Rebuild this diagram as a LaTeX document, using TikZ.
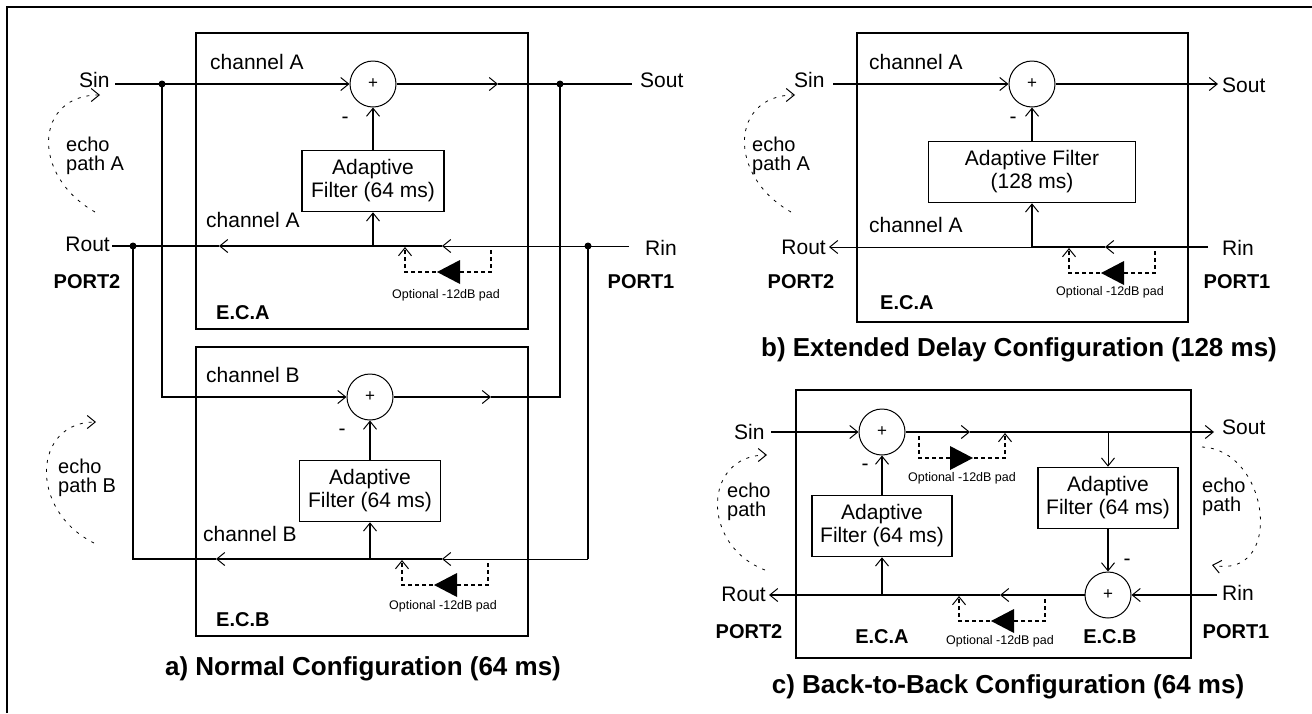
\documentclass[tikz,border=0pt]{standalone}
\usepackage{fontspec}
\setmainfont{Liberation Sans}
\usetikzlibrary{arrows.meta}

\tikzset{padpic/.pic={
	\draw[padline,->] (86,4) -- (86,26) -- (0,26) -- (0,1);
	\fill (32,26) -- (55,14) -- (55,38) -- cycle;
}}

\begin{document}
\begin{tikzpicture}[x=1pt,y=-1pt,
				>={Straight Barb[length=8pt,width=13pt,line width=1pt]},
				every node/.style={inner sep=0pt,font=\fontsize{21}{23}\selectfont},
				sum/.style={circle,draw,line width=1pt,minimum size=46pt,font=\fontsize{17}{17}\selectfont},
				afilter/.style={draw,line width=1.6pt,align=center,minimum height=61pt},
				lbl/.style={font=\fontsize{20}{20}\selectfont\bfseries},
				figtitle/.style={font=\fontsize{26}{26}\selectfont\bfseries},
				padtext/.style={font=\fontsize{12.5}{13}\selectfont},
				echotext/.style={align=left,font=\fontsize{20}{19}\selectfont},
				dot/.style={circle,fill,minimum size=7pt},
				wire/.style={line width=1.6pt},
				thinwire/.style={line width=1pt},
				padline/.style={line width=1.2pt,dash pattern=on 4pt off 3pt},
				echoline/.style={line width=0.8pt,dash pattern=on 3pt off 6pt}]
\useasboundingbox (0,0) rectangle (1312,713);
% frame
\draw[line width=2pt] (7,713) -- (7,7) -- (1312,7);

% a) normal configuration
\draw[wire] (196,33) rectangle (528,329);
\draw[wire] (196,347) rectangle (528,636);
\node[sum] (sumA) at (373,84) {+};
\node[sum] (sumB) at (370,397) {+};
\node[afilter,minimum width=142pt] (filtA) at (373,181) {Adaptive\\Filter (64 ms)};
\node[afilter,minimum width=141pt] (filtB) at (370,491) {Adaptive\\Filter (64 ms)};
\node[anchor=west] (sinA) at (79,80) {Sin};
\node[anchor=west] (soutA) at (640,80) {Sout};
\node[anchor=east] (routA) at (110,244) {Rout};
\node[anchor=west] (rinA) at (645,248) {Rin};
\node[lbl] (p2A) at (87,282) {PORT2};
\node[lbl] (p1A) at (641,282) {PORT1};
\node[anchor=west] (chA1) at (210,62) {channel A};
\node[anchor=west] (chA2) at (206,220) {channel A};
\node[anchor=west] (chB1) at (206,375) {channel B};
\node[anchor=west] (chB2) at (203,534) {channel B};
\node[lbl,anchor=west] (ecA) at (216,313) {E.C.A};
\node[lbl,anchor=west] (ecB) at (216,620) {E.C.B};
\node (mA) at (345,120) {-};
\node (mB) at (342,432) {-};
\node[padtext] (optA) at (446,295) {Optional -12dB pad};
\node[padtext] (optB) at (443,606) {Optional -12dB pad};
\node[echotext,anchor=west] (echoA) at (66,156) {echo\\path A};
\node[echotext,anchor=west] (echoB) at (58,478) {echo\\path B};
\node[figtitle] (ttlA) at (363,669) {a) Normal Configuration (64 ms)};

\coordinate (sA) at (115,84);
\coordinate (aA) at (498,84);
\coordinate (oA) at (632,84);
\node[dot] (dA1) at (162,84) {};
\node[dot] (dA2) at (560,84) {};
\draw[wire,->] (sA) -- (sumA.west);
\draw[wire,->] (sumA.east) -- (aA);
\draw[wire] (aA) -- (oA);
\draw[wire,->] (dA1.center) |- (sumB.west);
\coordinate (aB) at (491,397);
\draw[wire,->] (sumB.east) -- (aB);
\draw[wire] (aB) -| (dA2.center);

\coordinate (rA) at (629,246);
\coordinate (rA1) at (442,246);
\coordinate (rA2) at (219,246);
\coordinate (tA) at (112,246);
\node[dot] (dR1) at (133,246) {};
\node[dot] (dR2) at (588,246) {};
\draw[thinwire,->] (rA) -- (rA1);
\draw[wire,->] (rA1) -- (rA2);
\draw[wire] (rA2) -- (tA);
\coordinate (cB1) at (588,559);
\coordinate (rB1) at (442,559);
\coordinate (rB2) at (216,559);
\coordinate (cB2) at (133,559);
\draw[wire] (dR2.center) -- (cB1);
\draw[thinwire,->] (cB1) -- (rB1);
\draw[wire,->] (rB1) -- (rB2);
\draw[wire] (rB2) -- (cB2) -- (dR1.center);

\coordinate (uA) at (373,246);
\coordinate (uB) at (370,559);
\draw[wire,->] (uA) -- (filtA.south);
\draw[wire,->] (filtA.north) -- (sumA.south);
\draw[wire,->] (uB) -- (filtB.south);
\draw[wire,->] (filtB.north) -- (sumB.south);
\pic at (405,246) {padpic};
\pic at (402,559) {padpic};

\coordinate (eA1) at (95,212);
\coordinate (eA2) at (100,95);
\draw[echoline,->] (eA1) .. controls (30,175) and (35,95) .. (eA2);
\coordinate (eB1) at (94,543);
\coordinate (eB2) at (96,422);
\draw[echoline,->] (eB1) .. controls (28,510) and (33,422) .. (eB2);

% b) extended delay configuration
\draw[wire] (857,33) rectangle (1188,322);
\node[sum] (sumE) at (1032,84) {+};
\node[afilter,minimum width=207pt] (filtE) at (1032,172) {Adaptive Filter\\(128 ms)};
\node[anchor=west] (sinE) at (794,80) {Sin};
\node[anchor=west] (soutE) at (1222,85) {Sout};
\node[anchor=east] (routE) at (826,247) {Rout};
\node[anchor=west] (rinE) at (1222,248) {Rin};
\node[lbl] (p2E) at (801,282) {PORT2};
\node[lbl] (p1E) at (1237,282) {PORT1};
\node[anchor=west] (chE1) at (869,62) {channel A};
\node[anchor=west] (chE2) at (869,225) {channel A};
\node[lbl,anchor=west] (ecE) at (880,303) {E.C.A};
\node (mE) at (1013,120) {-};
\node[padtext] (optE) at (1110,292) {Optional -12dB pad};
\node[echotext,anchor=west] (echoE) at (752,156) {echo\\path A};
\node[figtitle] (ttlE) at (1019,350) {b) Extended Delay Configuration (128 ms)};

\coordinate (sE) at (833,84);
\coordinate (oE) at (1218,84);
\draw[wire,->] (sE) -- (sumE.west);
\draw[wire,->] (sumE.east) -- (oE);
\coordinate (rE) at (1208,247);
\coordinate (rE1) at (1105,247);
\coordinate (uE) at (1032,247);
\coordinate (tE) at (829,247);
\draw[wire,->] (rE) -- (rE1);
\draw[wire] (rE1) -- (uE);
\draw[thinwire,->] (uE) -- (tE);
\draw[wire,->] (uE) -- (filtE.south);
\draw[wire,->] (filtE.north) -- (sumE.south);
\pic at (1069,247) {padpic};
\coordinate (eE1) at (791,212);
\coordinate (eE2) at (795,95);
\draw[echoline,->] (eE1) .. controls (726,175) and (731,95) .. (eE2);

% c) back-to-back configuration
\draw[wire] (796,390) rectangle (1191,658);
\node[sum] (sumC1) at (882,432) {+};
\node[sum] (sumC2) at (1108,595) {+};
\node[afilter,minimum width=140pt] (filtC1) at (882,526) {Adaptive\\Filter (64 ms)};
\node[afilter,minimum width=140pt] (filtC2) at (1108,498) {Adaptive\\Filter (64 ms)};
\node[anchor=west] (sinC) at (734,432) {Sin};
\node[anchor=west] (soutC) at (1222,427) {Sout};
\node[anchor=east] (routC) at (766,594) {Rout};
\node[anchor=west] (rinC) at (1222,593) {Rin};
\node[lbl] (p2C) at (749,632) {PORT2};
\node[lbl] (p1C) at (1236,632) {PORT1};
\node[lbl] (ecCA) at (882,637) {E.C.A};
\node[lbl] (ecCB) at (1110,637) {E.C.B};
\node (mC1) at (865,467) {-};
\node (mC2) at (1127,562) {-};
\node[padtext] (optC1) at (962,478) {Optional -12dB pad};
\node[padtext] (optC2) at (1000,641) {Optional -12dB pad};
\node[echotext,anchor=west] (echoC1) at (727,502) {echo\\path};
\node[echotext,anchor=west] (echoC2) at (1202,497) {echo\\path};
\node[figtitle] (ttlC) at (1008,687) {c) Back-to-Back Configuration (64 ms)};

\coordinate (sC) at (771,432);
\coordinate (aC) at (970,432);
\coordinate (jC) at (1108,432);
\coordinate (oC) at (1214,432);
\draw[wire,->] (sC) -- (sumC1.west);
\draw[wire,->] (sumC1.east) -- (aC);
\draw[wire,->] (aC) -- (oC);
\draw[thinwire,->] (jC) -- (filtC2.north);
\draw[wire,->] (filtC2.south) -- (sumC2.north);
\coordinate (rC) at (1217,595);
\coordinate (aC2) at (1000,595);
\coordinate (uC) at (882,595);
\coordinate (tC) at (769,595);
\draw[wire,->] (rC) -- (sumC2.east);
\draw[wire,->] (sumC2.west) -- (aC2);
\draw[wire,->] (aC2) -- (tC);
\draw[wire,->] (uC) -- (filtC1.south);
\draw[wire,->] (filtC1.north) -- (sumC1.south);
\pic at (959,595) {padpic};
\pic[xscale=-1] at (1005,432) {padpic};
\coordinate (eC1) at (765,570);
\coordinate (eC2) at (767,455);
\draw[echoline,->] (eC1) .. controls (700,545) and (703,455) .. (eC2);
\coordinate (eC3) at (1202,447);
\coordinate (eC4) at (1212,565);
\draw[echoline,->] (eC3) .. controls (1270,450) and (1285,580) .. (eC4);
\end{tikzpicture}
\end{document}
